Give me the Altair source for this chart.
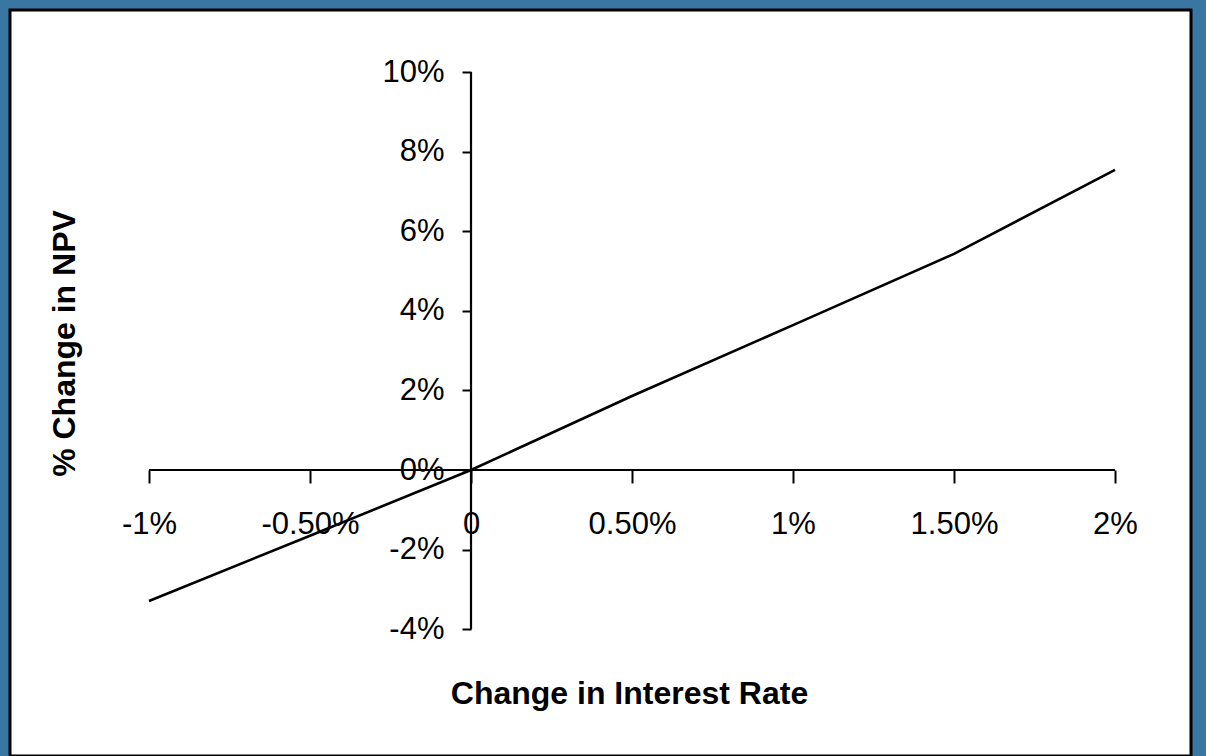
import altair as alt
import pandas as pd

# Data
rates = [-0.01, -0.005, 0.0, 0.005, 0.01, 0.015, 0.02]
rate_labels = ["-1%", "-0.50%", "0", "0.50%", "1%", "1.50%", "2%"]
npv_change = [-0.0329, -0.0165, 0.0, 0.0186, 0.0364, 0.0543, 0.0754]
y_ticks = [-0.04, -0.02, 0.0, 0.02, 0.04, 0.06, 0.08, 0.10]
y_labels = ["-4%", "-2%", "0%", "2%", "4%", "6%", "8%", "10%"]

df = pd.DataFrame({"rate": rates, "npv": npv_change})

# axis lines (x: -1%..2% at y=0 ; y: -4%..10% at x=0)
xline = pd.DataFrame({"x": [rates[0]], "x2": [rates[-1]], "y": [0.0]})
yline = pd.DataFrame({"x": [0.0], "y": [y_ticks[0]], "y2": [y_ticks[-1]]})


def make_expr(vals, labs):
    e = ""
    for v, lab in zip(vals, labs):
        e += f"abs(datum.value - ({v})) < 1e-6 ? '{lab}' : "
    return e + "''"


FONT = "Liberation Sans"

x_scale = alt.Scale(domain=[-0.014317, 0.022360], nice=False, zero=False)
y_scale = alt.Scale(domain=[-0.07186, 0.11558], nice=False, zero=False)

x_axis = alt.Axis(
    orient="bottom", offset=-286, domain=False, grid=False,
    values=rates, labelExpr=make_expr(rates, rate_labels),
    tickSize=13, tickWidth=2, tickColor="black",
    labelFont=FONT, labelFontSize=31, labelColor="black",
    labelPadding=26, labelFlush=False, labelOverlap=False, labelBound=False,
    title="Change in Interest Rate", titleFont=FONT, titleFontSize=32,
    titleFontWeight="bold", titleColor="black",
    titleX=619, titleY=233, titleAlign="center", titleBaseline="alphabetic",
)
y_axis = alt.Axis(
    orient="left", offset=-461, domain=False, grid=False,
    values=y_ticks, labelExpr=make_expr(y_ticks, y_labels),
    tickSize=9, tickWidth=2, tickColor="black",
    labelFont=FONT, labelFontSize=31, labelColor="black",
    labelPadding=18, labelFlush=False, labelOverlap=False, labelBound=False,
    title="% Change in NPV", titleFont=FONT, titleFontSize=32,
    titleFontWeight="bold", titleColor="black",
    titleX=-397, titleY=333, titleAlign="center", titleBaseline="alphabetic",
    titleAngle=270,
)

line = alt.Chart(df).mark_line(color="black", strokeWidth=2.6).encode(
    x=alt.X("rate:Q", scale=x_scale, axis=x_axis),
    y=alt.Y("npv:Q", scale=y_scale, axis=y_axis),
)

xrule = alt.Chart(xline).mark_rule(color="black", strokeWidth=2.2).encode(
    x=alt.X("x:Q", scale=x_scale), x2="x2:Q", y=alt.Y("y:Q", scale=y_scale)
)
yrule = alt.Chart(yline).mark_rule(color="black", strokeWidth=2.2).encode(
    x=alt.X("x:Q", scale=x_scale), y=alt.Y("y:Q", scale=y_scale), y2="y2:Q"
)

chart = (
    alt.layer(xrule, yrule, line)
    .properties(
        width=1181, height=746,
        autosize=alt.AutoSizeParams(type="none"),
        padding={"left": 10, "top": 10, "right": 15, "bottom": 0},
        background="#3A76A2",
    )
    .configure_view(fill="white", stroke="black", strokeWidth=3)
)

chart.save("out.html", embed_options={"renderer": "svg", "actions": False})
